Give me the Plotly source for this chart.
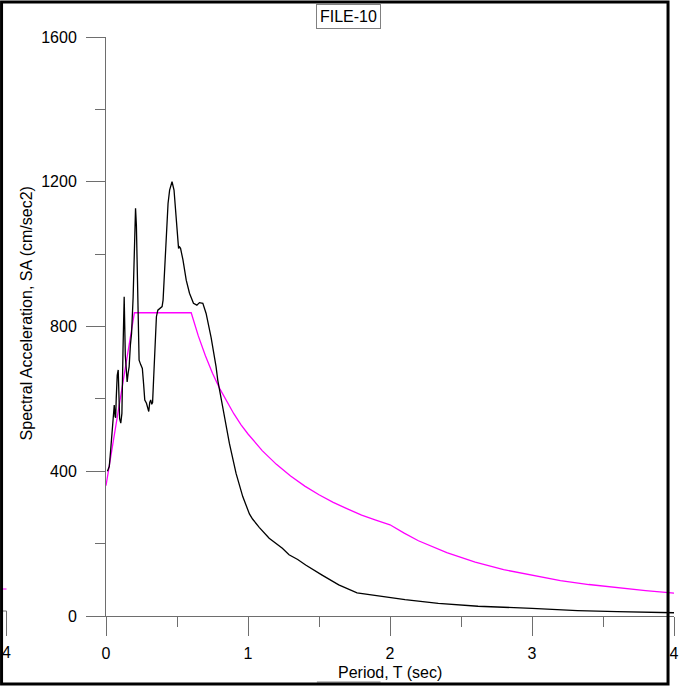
import plotly.graph_objects as go

# Spectral acceleration record (black)
period_rec = [0.01, 0.023, 0.033, 0.044, 0.054, 0.058, 0.064, 0.068, 0.072, 0.079, 0.086, 0.09,
              0.096, 0.104, 0.112, 0.12, 0.128, 0.136, 0.144, 0.149, 0.156, 0.163, 0.172, 0.18,
              0.191, 0.2, 0.208, 0.214, 0.219, 0.226, 0.233, 0.245, 0.256, 0.265, 0.273, 0.285,
              0.29, 0.301, 0.308, 0.315, 0.322, 0.328, 0.336, 0.345, 0.355, 0.365, 0.378, 0.395,
              0.402, 0.415, 0.425, 0.437, 0.448, 0.465, 0.479, 0.488, 0.495, 0.503, 0.511, 0.518,
              0.525, 0.542, 0.565, 0.588, 0.616, 0.64, 0.658, 0.682, 0.705, 0.74, 0.752, 0.775,
              0.787, 0.822, 0.869, 0.916, 0.963, 1.01, 1.032, 1.079, 1.149, 1.242, 1.289, 1.35,
              1.406, 1.522, 1.639, 1.768, 1.873, 1.99, 2.106, 2.34, 2.62, 3.0, 3.32, 3.6, 3.95, 4.0]
sa_rec = [400, 413, 459, 523, 575, 583, 551, 548, 600, 665, 680, 600,
          545, 533, 560, 740, 882, 720, 650, 647, 671, 689, 750, 781,
          880, 1020, 1127, 1080, 965, 800, 707, 694, 684, 640, 597, 588,
          578, 565, 590, 597, 585, 590, 661, 760, 827, 845, 850, 855,
          873, 980, 1076, 1140, 1177, 1200, 1177, 1130, 1076, 1030, 1016, 1020,
          1016, 984, 928, 892, 864, 859, 866, 864, 836, 770, 744, 689,
          652, 578, 477, 394, 330, 282, 268, 245, 215, 187, 169, 156,
          141, 113, 86, 64, 58, 52, 45, 35, 27, 21, 15, 12, 9, 9]

# Design spectrum (magenta)
period_des = [0, 0.2, 0.6, 0.65, 0.7, 0.75, 0.8, 0.85, 0.9, 0.95, 1.0, 1.1, 1.2, 1.3, 1.4,
              1.5, 1.6, 1.7, 1.8, 1.9, 2.0, 2.1, 2.2, 2.4, 2.6, 2.8, 3.0, 3.2, 3.4, 3.6, 3.8, 4.0]
sa_des = [360, 838, 838, 774, 719, 671, 629, 592, 559, 529, 503, 457, 419, 387, 359,
          335, 314, 296, 279, 265, 252, 229, 208, 175, 149, 128, 112, 98, 87, 78, 70, 63]

x_ticks = [0, 1, 2, 3, 4]
y_ticks = [0, 400, 800, 1200, 1600]

FONT = "Liberation Sans, Arial, sans-serif"
AX = "#6e6e6e"

fig = go.Figure()
fig.add_trace(go.Scatter(x=period_des, y=sa_des, mode="lines",
                         line=dict(color="#ff00ff", width=1.3), showlegend=False))
fig.add_trace(go.Scatter(x=period_rec, y=sa_rec, mode="lines",
                         line=dict(color="black", width=1.3), showlegend=False))

L, R, T, B = 106, 14, 37, 70
W, H = 691, 686
pw, ph = W - L - R, H - T - B

def px(xp):
    return (xp - L) / pw

def py(yp):
    return (H - B - yp) / ph

fig.update_layout(
    width=W, height=H,
    margin=dict(l=L, r=R, t=T, b=B, pad=0),
    plot_bgcolor="white", paper_bgcolor="white",
    font=dict(family=FONT, size=16, color="black"),
    xaxis=dict(range=[0, 4], tickvals=x_ticks, ticktext=[str(v) for v in x_ticks],
               showgrid=False, zeroline=False, showline=True, linecolor=AX, linewidth=1,
               ticks="outside", ticklen=19, tickcolor=AX, tickwidth=1,
               ticklabelstandoff=4,
               minor=dict(ticks="outside", ticklen=10, dtick=0.5, tickcolor=AX, showgrid=False),
               tickfont=dict(size=16)),
    yaxis=dict(range=[0, 1600], tickvals=y_ticks, ticktext=[str(v) for v in y_ticks],
               showgrid=False, zeroline=False, showline=True, linecolor=AX, linewidth=1,
               ticks="outside", ticklen=19, tickcolor=AX, tickwidth=1,
               ticklabelstandoff=6,
               minor=dict(ticks="outside", ticklen=10, dtick=200, tickcolor=AX, showgrid=False),
               tickfont=dict(size=16)),
    annotations=[
        dict(text="Period, T (sec)", xref="paper", yref="paper", x=0.5, y=py(672),
             showarrow=False, font=dict(size=16), xanchor="center", yanchor="middle"),
        dict(text="Spectral Acceleration, SA (cm/sec2)", xref="paper", yref="paper",
             x=px(26), y=py(313), textangle=-90, showarrow=False, font=dict(size=16),
             xanchor="center", yanchor="middle"),
        dict(text="FILE-10", xref="paper", yref="paper", x=px(350), y=py(16),
             showarrow=False, font=dict(size=16), xanchor="center", yanchor="middle",
             bordercolor="#808080", borderwidth=1, borderpad=3, bgcolor="white"),
        dict(text="4", xref="paper", yref="paper", x=px(6), y=py(652),
             showarrow=False, font=dict(size=16), xanchor="center", yanchor="middle"),
    ],
    shapes=[
        # pieces of neighbouring panels
        dict(type="line", xref="paper", yref="paper", x0=px(0), x1=px(6), y0=py(611), y1=py(611),
             line=dict(color=AX, width=1)),
        dict(type="line", xref="paper", yref="paper", x0=px(6), x1=px(6), y0=py(611), y1=py(636),
             line=dict(color=AX, width=1)),
        dict(type="line", xref="paper", yref="paper", x0=px(0), x1=px(6), y0=py(589), y1=py(589),
             line=dict(color="#ff00ff", width=1)),
        dict(type="line", xref="paper", yref="paper", x0=px(318), x1=px(382), y0=py(682), y1=py(682),
             line=dict(color="#808080", width=1)),
        # outer frame
        dict(type="rect", xref="paper", yref="paper", x0=px(1), x1=px(671), y0=py(2), y1=py(684),
             line=dict(color="black", width=3), layer="above"),
    ],
)

fig.write_html("out.html", config={"displayModeBar": False},
               post_script="document.body.style.margin='0';document.body.style.overflow='hidden';")
